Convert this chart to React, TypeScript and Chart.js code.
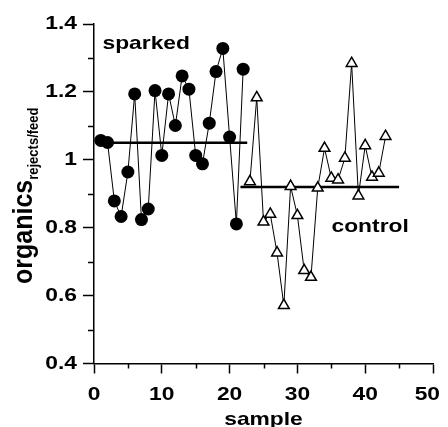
import React, { useEffect, useRef } from 'react';
import { Chart, registerables } from 'chart.js';

Chart.register(...registerables);

// Organics ratio (rejects / feed) per sample
const sparkedSamples = [1, 2, 3, 4, 5, 6, 7, 8, 9, 10, 11, 12, 13, 14, 15, 16, 17, 18, 19, 20, 21, 22];
const sparkedValues = [1.057, 1.051, 0.879, 0.833, 0.964, 1.194, 0.824, 0.855, 1.204, 1.013, 1.194, 1.101, 1.247, 1.208, 1.013, 0.988, 1.108, 1.26, 1.328, 1.067, 0.811, 1.267];

const controlSamples = [23, 24, 25, 26, 27, 28, 29, 30, 31, 32, 33, 34, 35, 36, 37, 38, 39, 40, 41, 42, 43];
const controlValues = [0.936, 1.183, 0.817, 0.84, 0.726, 0.571, 0.922, 0.836, 0.674, 0.654, 0.917, 1.034, 0.946, 0.941, 1.005, 1.284, 0.894, 1.042, 0.949, 0.961, 1.069];

// Average level of each group and the sample range it is drawn over
const sparkedMean = 1.05;
const sparkedMeanRange = [1, 22.6];
const controlMean = 0.92;
const controlMeanRange = [21.6, 45];

// Axis ranges and labels
const xRange = [0, 50];
const xStep = 10;
const xMinorTicks = [5, 15, 25, 35, 45];
const yRange = [0.4, 1.4];
const yStep = 0.2;
const yMinorTicks = [0.5, 0.7, 0.9, 1.1, 1.3];

const xTitle = 'sample';
const yTitleMain = 'organics';
const yTitleSub = 'rejects/feed';
const sparkedLabel = 'sparked';
const controlLabel = 'control';

const FONT = '"Liberation Sans", Arial, Helvetica, sans-serif';
const STRETCH = 1.2;

function drawText(
  ctx: CanvasRenderingContext2D,
  text: string,
  x: number,
  y: number,
  size: number,
  align: CanvasTextAlign,
  sx: number = STRETCH
) {
  ctx.save();
  ctx.font = `bold ${size}px ${FONT}`;
  ctx.fillStyle = '#000';
  ctx.textBaseline = 'alphabetic';
  ctx.textAlign = align;
  ctx.translate(x, y);
  ctx.scale(sx, 1);
  ctx.fillText(text, 0, 0);
  ctx.restore();
}

const decorations = {
  id: 'decorations',
  afterDraw(chart: any) {
    const ctx: CanvasRenderingContext2D = chart.ctx;
    const xs = chart.scales.x;
    const ys = chart.scales.y;
    const area = chart.chartArea;

    // minor tick marks
    ctx.save();
    ctx.strokeStyle = '#000';
    ctx.lineWidth = 1.5;
    ctx.beginPath();
    for (const v of xMinorTicks) {
      const px = Math.round(xs.getPixelForValue(v)) + 0.5;
      ctx.moveTo(px, area.bottom);
      ctx.lineTo(px, area.bottom + 5);
    }
    for (const v of yMinorTicks) {
      const py = Math.round(ys.getPixelForValue(v)) + 0.5;
      ctx.moveTo(area.left, py);
      ctx.lineTo(area.left - 6, py);
    }
    ctx.stroke();
    ctx.restore();

    // tick labels
    for (const t of xs.ticks) {
      const px = xs.getPixelForValue(t.value);
      ctx.save();
      ctx.font = `bold 19px ${FONT}`;
      const w = ctx.measureText(String(t.label)).width * STRETCH;
      ctx.restore();
      const cx = Math.min(px, chart.width - 8 - w / 2);
      drawText(ctx, String(t.label), cx, area.bottom + 36.5, 19, 'center');
    }
    for (const t of ys.ticks) {
      const py = ys.getPixelForValue(t.value);
      drawText(ctx, String(t.label), area.left - 17, py + 5, 19, 'right');
    }

    // axis titles
    drawText(ctx, xTitle, (area.left + area.right) / 2, area.bottom + 61, 19, 'center');

    ctx.save();
    ctx.font = `bold 25px ${FONT}`;
    const w1 = ctx.measureText(yTitleMain).width;
    ctx.font = `bold 13px ${FONT}`;
    const w2 = ctx.measureText(yTitleSub).width;
    ctx.restore();
    const midY = (area.top + area.bottom) / 2 + 2;
    const startY = midY + (w1 + w2) / 2;
    ctx.save();
    ctx.fillStyle = '#000';
    ctx.textBaseline = 'alphabetic';
    ctx.textAlign = 'left';
    ctx.translate(31.5, startY);
    ctx.scale(1.1, 1);
    ctx.rotate(-Math.PI / 2);
    ctx.font = `bold 25px ${FONT}`;
    ctx.fillText(yTitleMain, 0, 0);
    ctx.font = `bold 13px ${FONT}`;
    ctx.fillText(yTitleSub, w1, 6);
    ctx.restore();

    // group labels
    drawText(ctx, sparkedLabel, area.left + 8.5, 48.5, 19, 'left');
    drawText(ctx, controlLabel, 331.5, 231.5, 19, 'left');
  },
};

export default function App() {
  const canvasRef = useRef<HTMLCanvasElement | null>(null);

  useEffect(() => {
    const canvas = canvasRef.current;
    if (!canvas) return;

    const sparked = sparkedSamples.map((x, i) => ({ x, y: sparkedValues[i] }));
    const control = controlSamples.map((x, i) => ({ x, y: controlValues[i] }));

    const chart = new Chart(canvas, {
      type: 'scatter',
      data: {
        datasets: [
          {
            label: sparkedLabel,
            data: sparked,
            showLine: true,
            borderColor: '#000',
            borderWidth: 1,
            pointStyle: 'circle',
            pointRadius: 6.5,
            pointBackgroundColor: '#000',
            pointBorderColor: '#000',
            pointBorderWidth: 0,
            order: 1,
          },
          {
            label: controlLabel,
            data: control,
            showLine: true,
            borderColor: '#000',
            borderWidth: 1,
            pointStyle: 'triangle',
            pointRadius: 6.2,
            pointBackgroundColor: '#fff',
            pointBorderColor: '#000',
            pointBorderWidth: 1.5,
            order: 1,
          },
          {
            label: 'sparked mean',
            data: sparkedMeanRange.map((x) => ({ x, y: sparkedMean })),
            showLine: true,
            borderColor: '#000',
            borderWidth: 2.5,
            pointRadius: 0,
            order: 2,
          },
          {
            label: 'control mean',
            data: controlMeanRange.map((x) => ({ x, y: controlMean })),
            showLine: true,
            borderColor: '#000',
            borderWidth: 2.5,
            pointRadius: 0,
            order: 2,
          },
        ],
      },
      options: {
        animation: false,
        responsive: false,
        devicePixelRatio: 1,
        layout: { padding: { left: 0, top: 24, right: 15, bottom: 0 } },
        plugins: {
          legend: { display: false },
          tooltip: { enabled: false },
        },
        scales: {
          x: {
            type: 'linear',
            min: xRange[0],
            max: xRange[1],
            ticks: { stepSize: xStep, display: false },
            grid: {
              drawOnChartArea: false,
              drawTicks: true,
              tickLength: 10,
              tickColor: '#000',
              tickWidth: 1.5,
            },
            border: { display: true, color: '#000', width: 1.5 },
            afterFit(scale: any) {
              scale.height = 63.5;
            },
          },
          y: {
            type: 'linear',
            min: yRange[0],
            max: yRange[1],
            ticks: {
              stepSize: yStep,
              display: false,
              callback: (v: any) => String(Number(Number(v).toFixed(1))),
            },
            grid: {
              drawOnChartArea: false,
              drawTicks: true,
              tickLength: 11,
              tickColor: '#000',
              tickWidth: 1.5,
            },
            border: { display: true, color: '#000', width: 1.5 },
            afterFit(scale: any) {
              scale.width = 94;
            },
          },
        },
      },
      plugins: [decorations],
    });

    return () => chart.destroy();
  }, []);

  return (
    <div style={{ position: 'absolute', left: 0, top: 0, width: 448, height: 427, background: '#fff' }}>
      <canvas ref={canvasRef} width={448} height={427} />
    </div>
  );
}
